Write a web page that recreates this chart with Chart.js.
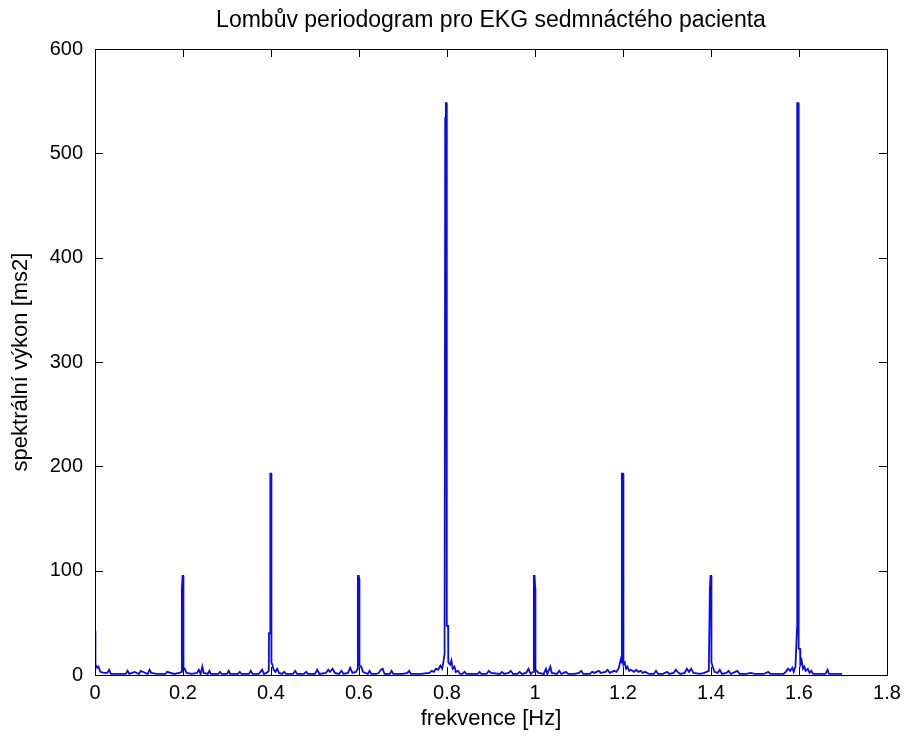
<!DOCTYPE html>
<html>
<head>
<meta charset="utf-8">
<script src="https://cdn.jsdelivr.net/npm/chart.js@4/dist/chart.umd.min.js"></script>
<style>
    body { margin: 0; background: #fff; }
    #wrap { width: 909px; height: 742px; }
</style>
</head>
<body>
<div id="wrap"><canvas id="graf" width="909" height="742"></canvas></div>
<script>
// Lombův periodogram
const titulek = 'Lombův periodogram pro EKG sedmnáctého pacienta';
const popisX = 'frekvence [Hz]';
const popisY = 'spektrální výkon [ms2]';

const xTicks = [0, 0.2, 0.4, 0.6, 0.8, 1, 1.2, 1.4, 1.6, 1.8];
const yTicks = [0, 100, 200, 300, 400, 500, 600];

// frekvence [Hz]
const freq = [
    0, 0.001, 0.003, 0.005, 0.008, 0.012, 0.02, 0.028, 0.032, 0.036,
    0.05, 0.07, 0.074, 0.078, 0.09, 0.1, 0.104, 0.12, 0.124, 0.128,
    0.14, 0.16, 0.164, 0.18, 0.192, 0.196, 0.1975, 0.199, 0.2005, 0.201,
    0.204, 0.208, 0.22, 0.232, 0.236, 0.24, 0.244, 0.247, 0.256, 0.26,
    0.263, 0.28, 0.284, 0.288, 0.3, 0.304, 0.307, 0.325, 0.329, 0.333,
    0.35, 0.354, 0.358, 0.372, 0.376, 0.38, 0.384, 0.39, 0.395, 0.3955,
    0.398, 0.3985, 0.4005, 0.401, 0.403, 0.406, 0.41, 0.414, 0.418,
    0.425, 0.43, 0.434, 0.45, 0.455, 0.459, 0.475, 0.48, 0.484, 0.5,
    0.505, 0.51, 0.525, 0.53, 0.534, 0.54, 0.545, 0.555, 0.56, 0.565,
    0.575, 0.58, 0.585, 0.593, 0.597, 0.5975, 0.5995, 0.6005, 0.601, 0.605,
    0.609, 0.62, 0.624, 0.628, 0.64, 0.645, 0.65, 0.654, 0.658, 0.67,
    0.674, 0.678, 0.7, 0.71, 0.714, 0.718, 0.74, 0.76, 0.765, 0.77,
    0.775, 0.78, 0.785, 0.789, 0.792, 0.7945, 0.796, 0.7975, 0.799, 0.7995,
    0.8025, 0.803, 0.807, 0.81, 0.813, 0.817, 0.82, 0.825, 0.83,
    0.835, 0.84, 0.844, 0.87, 0.874, 0.878, 0.89, 0.895, 0.9, 0.92,
    0.925, 0.93, 0.94, 0.945, 0.95, 0.96, 0.965, 0.97, 0.98, 0.985,
    0.99, 0.996, 0.9975, 0.999, 1.0005, 1.001, 1.004, 1.008,
    1.02, 1.025, 1.028, 1.035, 1.038, 1.05, 1.055, 1.06, 1.07, 1.075,
    1.09, 1.1, 1.105, 1.11, 1.125, 1.13, 1.135, 1.145, 1.15, 1.16,
    1.165, 1.17, 1.18, 1.185, 1.19, 1.195, 1.197, 1.1975, 1.2, 1.2005,
    1.2015, 1.204, 1.207, 1.21, 1.214, 1.218,
    1.225, 1.23, 1.235, 1.24, 1.245, 1.25, 1.26, 1.27, 1.275, 1.28,
    1.29, 1.3, 1.305, 1.315, 1.32, 1.324, 1.33, 1.34, 1.345, 1.35,
    1.355, 1.36, 1.375, 1.385, 1.39, 1.395, 1.3975, 1.399, 1.4005, 1.401,
    1.404, 1.408, 1.415, 1.42, 1.425, 1.435, 1.44, 1.445, 1.455, 1.46,
    1.465, 1.48, 1.49, 1.5, 1.52, 1.53, 1.535, 1.55, 1.565, 1.57,
    1.575, 1.58, 1.585, 1.588, 1.592, 1.5945, 1.5955, 1.596, 1.5985, 1.599,
    1.5995, 1.6025, 1.603, 1.606, 1.609, 1.612, 1.615, 1.62, 1.624, 1.628,
    1.632, 1.65, 1.66, 1.665, 1.668, 1.69, 1.698
];

// spektrální výkon [ms2]
const power = [
    42, 10, 9, 7, 8, 3, 2, 2, 5, 1,
    1, 1, 4, 1, 3, 1, 4, 1, 5, 2,
    1, 1, 3, 1, 2, 3, 83, 95, 95, 5,
    6, 2, 1, 2, 5, 1, 8, 2, 1, 4,
    1, 1, 3, 1, 1, 4, 1, 1, 3, 1,
    1, 4, 1, 1, 3, 5, 1, 2, 4, 40,
    40, 193, 193, 12, 10, 5, 3, 6, 2,
    1, 3, 1, 1, 4, 1, 1, 3, 1, 1,
    5, 1, 2, 5, 3, 6, 2, 1, 4, 1,
    2, 7, 2, 3, 6, 95, 95, 92, 9, 8,
    3, 1, 4, 1, 1, 2, 5, 6, 1, 1,
    4, 1, 1, 2, 4, 1, 1, 2, 4, 3,
    6, 5, 9, 6, 13, 20, 534, 548, 548, 47,
    47, 12, 10, 14, 6, 8, 3, 4, 1,
    1, 3, 1, 1, 3, 1, 1, 4, 2, 1,
    3, 1, 2, 4, 1, 1, 3, 1, 2, 6,
    1, 3, 95, 95, 83, 5, 4, 2,
    1, 6, 1, 8, 2, 1, 4, 1, 3, 1,
    1, 2, 4, 1, 1, 3, 2, 4, 2, 3,
    5, 2, 4, 3, 6, 15, 12, 193, 193, 192,
    10, 12, 6, 8, 4, 5,
    3, 5, 3, 4, 2, 3, 1, 1, 4, 1,
    1, 3, 1, 2, 5, 3, 1, 2, 6, 3,
    6, 2, 1, 2, 3, 4, 83, 95, 95, 12,
    8, 3, 2, 5, 1, 2, 4, 1, 3, 4,
    1, 1, 2, 1, 1, 3, 1, 1, 1, 3,
    6, 4, 7, 3, 8, 35, 45, 548, 548, 534,
    25, 25, 10, 14, 6, 8, 4, 6, 2, 4,
    1, 1, 1, 5, 1, 1, 1
];

const FONT = "'Liberation Sans', Arial, sans-serif";

// ramecek a vnitrni carky jako v MATLABu
const ramecek = {
    id: 'ramecek',
    afterDraw(chart) {
        const { ctx, chartArea: a, scales: { x, y } } = chart;
        const L = 8;
        ctx.save();
        ctx.strokeStyle = '#000';
        ctx.lineWidth = 1;
        ctx.strokeRect(a.left + 0.5, a.top + 0.5, a.right - a.left, a.bottom - a.top);
        ctx.beginPath();
        xTicks.forEach(v => {
            const px = Math.round(x.getPixelForValue(v)) + 0.5;
            ctx.moveTo(px, a.bottom); ctx.lineTo(px, a.bottom - L);
            ctx.moveTo(px, a.top); ctx.lineTo(px, a.top + L);
        });
        yTicks.forEach(v => {
            const py = Math.round(y.getPixelForValue(v)) + 0.5;
            ctx.moveTo(a.left, py); ctx.lineTo(a.left + L, py);
            ctx.moveTo(a.right, py); ctx.lineTo(a.right - L, py);
        });
        ctx.stroke();
        ctx.restore();
    }
};

new Chart(document.getElementById('graf'), {
    type: 'line',
    data: {
        datasets: [{
            data: freq.map((f, i) => ({ x: f, y: power[i] })),
            borderColor: '#0a0ae6',
            borderWidth: 1.8,
            pointRadius: 0,
            tension: 0,
            fill: false
        }]
    },
    options: {
        responsive: false,
        animation: false,
        layout: { padding: { left: 0, right: 22, top: 0, bottom: 0 } },
        plugins: {
            legend: { display: false },
            tooltip: { enabled: false },
            title: {
                display: true,
                text: titulek,
                fullSize: false,
                color: '#000',
                font: { family: FONT, size: 23, weight: 'normal', lineHeight: 1.1 },
                padding: { top: 8, bottom: 15.7 }
            }
        },
        scales: {
            x: {
                type: 'linear',
                min: 0,
                max: 1.8,
                afterBuildTicks: s => { s.ticks = xTicks.map(v => ({ value: v })); },
                afterFit: s => { s.height = 67; },
                grid: { display: false, drawTicks: false },
                border: { display: false },
                ticks: {
                    padding: 6,
                    color: '#000',
                    maxRotation: 0,
                    autoSkip: false,
                    font: { family: FONT, size: 20 },
                    callback: v => String(+v.toFixed(1))
                },
                title: {
                    display: true,
                    text: popisX,
                    color: '#000',
                    font: { family: FONT, size: 22 },
                    padding: { top: 0, bottom: 10 }
                }
            },
            y: {
                min: 0,
                max: 600,
                afterBuildTicks: s => { s.ticks = yTicks.map(v => ({ value: v })); },
                afterFit: s => { s.width = 95; },
                grid: { display: false, drawTicks: false },
                border: { display: false },
                ticks: {
                    padding: 12,
                    color: '#000',
                    autoSkip: false,
                    font: { family: FONT, size: 20 }
                },
                title: {
                    display: true,
                    text: popisY,
                    color: '#000',
                    font: { family: FONT, size: 22 },
                    padding: { top: 8, bottom: 0 }
                }
            }
        }
    },
    plugins: [ramecek]
});
</script>
</body>
</html>
